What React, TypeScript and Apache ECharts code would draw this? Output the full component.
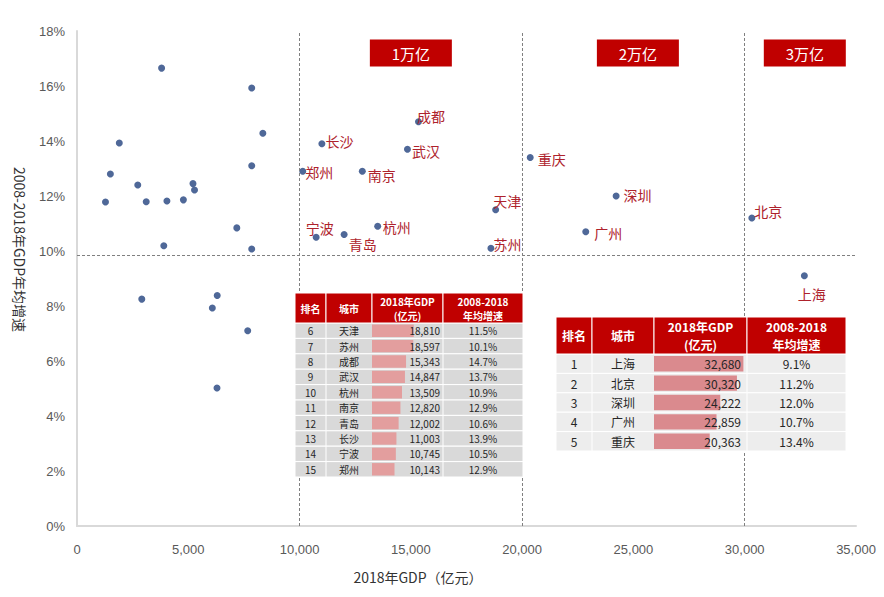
import { useEffect, useRef } from "react";
import * as echarts from "echarts";

// ---- data ----
const cities = ["上海", "北京", "深圳", "广州", "重庆", "天津", "苏州", "成都", "武汉", "杭州", "南京", "青岛", "长沙", "宁波", "郑州"];
const ranks = [1, 2, 3, 4, 5, 6, 7, 8, 9, 10, 11, 12, 13, 14, 15];
const gdp2018 = [32680, 30320, 24222, 22859, 20363, 18810, 18597, 15343, 14847, 13509, 12820, 12002, 11003, 10745, 10143];
const growth = [9.1, 11.2, 12.0, 10.7, 13.4, 11.5, 10.1, 14.7, 13.7, 10.9, 12.9, 10.6, 13.9, 10.5, 12.9];

const otherGdp = [3800, 7850, 8350, 1900, 1500, 7850, 2730, 5210, 5280, 1280, 3110, 4040, 4780, 7180, 3900, 7850, 2910, 6300, 6080, 7670, 6290];
const otherGrowth = [16.65, 15.93, 14.28, 13.93, 12.8, 13.1, 12.4, 12.45, 12.22, 11.78, 11.79, 11.82, 11.86, 10.84, 10.19, 10.07, 8.25, 8.38, 7.93, 7.1, 5.02];

const avgGrowth = 9.85;
const tierThresholds = [10000, 20000, 30000];
const tierLabels = ["1万亿", "2万亿", "3万亿"];

// ---- styling / layout ----
const tierBoxCoord: [number, number][] = [[15000, 17.2], [25200, 17.2], [32700, 17.2]];
const labelOffsets: Record<string, [number, number]> = {
  上海: [-10, 18.5], 北京: [-1, -7], 深圳: [4, -1], 广州: [5, 1.5], 重庆: [4, 1],
  天津: [-6, -8.5], 苏州: [-1, -4], 成都: [-5, -5.5], 武汉: [1, 2], 杭州: [1.5, 1],
  南京: [2, 4], 青岛: [1, 9], 长沙: [0, -2.5], 宁波: [-14, -9], 郑州: [-1, 1],
};

const RED = "#C00000";
const DOT = "#4F6898";
const LABEL_RED = "#AE222C";
const CJK = '"Noto Sans CJK SC", sans-serif';
const AXISFONT = '"Liberation Sans", "Noto Sans CJK SC", sans-serif';

const fmt = (n: number) => n.toLocaleString("en-US");

type TableLayout = {
  start: number; count: number; cols: number[]; headTop: number; headBottom: number; bodyBottom: number;
  font: number; headFont: number; max: number; barColor: string; rowFill: string; gdpPad: number; barPad: number;
};

const TABLES: TableLayout[] = [
  { start: 5, count: 10, cols: [295, 326, 372, 443, 523], headTop: 293, headBottom: 323, bodyBottom: 477,
    font: 10, headFont: 10, max: 32000, barColor: "#E39E9E", rowFill: "#D9D9D9", gdpPad: 3, barPad: 1.5 },
  { start: 0, count: 5, cols: [556, 592, 654, 747, 846], headTop: 317, headBottom: 354, bodyBottom: 451,
    font: 12, headFont: 12, max: 34000, barColor: "#DA8A8E", rowFill: "#EDEDED", gdpPad: 6, barPad: 2 },
];

function makeRender(t: TableLayout) {
  return (params: any, api: any) => {
    const r = t.start + params.dataIndex;
    const v = api.value(0) as number;
    const cat = api.value(1);
    const p0 = api.coord([0, cat]);
    const p1 = api.coord([v, cat]);
    const h = api.size([0, 1])[1];
    const top = p0[1] - h / 2;
    const [c0, c1, c2, c3, c4] = t.cols;
    const font = `${t.font}px ${CJK}`;
    const txt = (text: string, x: number, align: string) => ({
      type: "text",
      style: { text, x, y: p0[1], align, verticalAlign: "middle", textAlign: align, textVerticalAlign: "middle", fill: "#262626", font },
    });
    const sep = (x: number) => ({ type: "line", shape: { x1: x, y1: top, x2: x, y2: top + h }, style: { stroke: "#ffffff", lineWidth: 1 } });
    return {
      type: "group",
      children: [
        { type: "rect", shape: { x: c0, y: top, width: c4 - c0, height: h }, style: { fill: t.rowFill, stroke: "#ffffff", lineWidth: 1 } },
        { type: "rect", shape: { x: p0[0], y: top + t.barPad, width: p1[0] - p0[0], height: h - 2 * t.barPad }, style: { fill: t.barColor } },
        sep(c1), sep(c3),
        txt(String(ranks[r]), (c0 + c1) / 2, "center"),
        txt(cities[r], (c1 + c2) / 2, "center"),
        txt(fmt(gdp2018[r]), c3 - t.gdpPad, "right"),
        txt(growth[r].toFixed(1) + "%", (c3 + c4) / 2, "center"),
      ],
    };
  };
}

function headerGraphics(t: TableLayout) {
  const els: any[] = [];
  const [c0, c1, c2, c3, c4] = t.cols;
  const cols = [c0, c1, c2, c3, c4];
  const hh = t.headBottom - t.headTop;
  for (let j = 0; j < 4; j++) {
    els.push({ type: "rect", z: 100, shape: { x: cols[j], y: t.headTop, width: cols[j + 1] - cols[j], height: hh },
      style: { fill: RED, stroke: "#ffffff", lineWidth: 1 } });
  }
  const font = `bold ${t.headFont}px ${CJK}`;
  const tx = (text: string, x: number, y: number) => ({
    type: "text", z: 101,
    style: { text, x, y, align: "center", verticalAlign: "middle", textAlign: "center", textVerticalAlign: "middle", fill: "#ffffff", font },
  });
  const mid = t.headTop + hh / 2;
  const l1 = t.headTop + hh * 0.27;
  const l2 = t.headTop + hh * 0.75;
  els.push(tx("排名", (c0 + c1) / 2, mid));
  els.push(tx("城市", (c1 + c2) / 2, mid));
  els.push(tx("2018年GDP", (c2 + c3) / 2, l1));
  els.push(tx("(亿元)", (c2 + c3) / 2, l2));
  els.push(tx("2008-2018", (c3 + c4) / 2, l1));
  els.push(tx("年均增速", (c3 + c4) / 2, l2));
  return els;
}

export default function App() {
  const ref = useRef<HTMLDivElement>(null);
  useEffect(() => {
    if (!ref.current) return;
    const chart = echarts.init(ref.current, undefined, { renderer: "svg" });

    const labeledData = cities.map((c, i) => ({
      name: c,
      value: [gdp2018[i], growth[i]],
      label: { show: true, position: "right", distance: 0, offset: labelOffsets[c] || [0, 0], color: LABEL_RED },
    }));

    const option: any = {
      animation: false,
      backgroundColor: "#ffffff",
      grid: [
        { left: 77, right: 28, top: 31, bottom: 71, outerBoundsMode: "none" },
        ...TABLES.map((t) => ({
          left: t.cols[2], top: t.headBottom, width: t.cols[3] - t.cols[2], height: t.bodyBottom - t.headBottom, outerBoundsMode: "none",
        })),
      ],
      xAxis: [
        {
          type: "value", min: 0, max: 35000, interval: 5000,
          name: "2018年GDP（亿元）", nameLocation: "middle", nameGap: 44,
          nameTextStyle: { fontSize: 14, color: "#333333", fontFamily: CJK, padding: [0, 97, 0, 0] },
          axisLine: { show: true, lineStyle: { color: "#D9D9D9", width: 2 } },
          axisTick: { show: false },
          splitLine: { show: false },
          axisLabel: { color: "#595959", fontSize: 13, fontFamily: AXISFONT, margin: 17, formatter: (v: number) => fmt(v) },
        },
        ...TABLES.map((t, i) => ({ gridIndex: i + 1, type: "value", min: 0, max: t.max, show: false })),
      ],
      yAxis: [
        {
          type: "value", min: 0, max: 18, interval: 2,
          name: "2008-2018年GDP年均增速", nameLocation: "middle", nameRotate: -90, nameGap: 50,
          nameTextStyle: { fontSize: 14, color: "#333333", fontFamily: CJK, padding: [0, 58, 0, 0] },
          axisLine: { show: true, lineStyle: { color: "#D9D9D9", width: 2 } },
          axisTick: { show: false },
          splitLine: { show: false },
          axisLabel: { color: "#595959", fontSize: 13, fontFamily: AXISFONT, margin: 12, formatter: (v: number) => `${v}%` },
        },
        ...TABLES.map((t, i) => ({
          gridIndex: i + 1, type: "category", inverse: true, show: false,
          data: ranks.slice(t.start, t.start + t.count).map(String),
        })),
      ],
      series: [
        {
          type: "scatter",
          symbolSize: 7,
          itemStyle: { color: DOT, opacity: 1 },
          data: otherGdp.map((g, i) => [g, otherGrowth[i]]),
          markLine: {
            silent: true,
            symbol: ["none", "none"],
            label: { show: false },
            lineStyle: { color: "#808080", type: [3, 2], width: 1 },
            data: [...tierThresholds.map((x) => ({ xAxis: x })), { yAxis: avgGrowth }],
          },
          markPoint: {
            silent: true,
            symbol: "rect",
            symbolSize: [82, 27],
            itemStyle: { color: RED },
            label: { show: true, color: "#ffffff", fontSize: 15, fontFamily: CJK, formatter: (p: any) => p.name },
            data: tierLabels.map((l, i) => ({ name: l, coord: tierBoxCoord[i] })),
          },
        },
        {
          type: "scatter",
          symbolSize: 7,
          itemStyle: { color: DOT, opacity: 1 },
          label: { color: LABEL_RED, fontSize: 14, fontFamily: CJK, formatter: (p: any) => p.name },
          data: labeledData,
        },
        ...TABLES.map((t, i) => ({
          type: "custom",
          xAxisIndex: i + 1,
          yAxisIndex: i + 1,
          clip: false,
          silent: true,
          z: 20,
          encode: { x: 0, y: 1 },
          data: gdp2018.slice(t.start, t.start + t.count).map((g, k) => [g, k]),
          renderItem: makeRender(t),
        })),
      ],
      graphic: TABLES.flatMap((t) => headerGraphics(t)),
    };

    chart.setOption(option);
    return () => chart.dispose();
  }, []);

  return <div ref={ref} style={{ position: "fixed", left: 0, top: 0, width: 884, height: 597, background: "#fff" }} />;
}
